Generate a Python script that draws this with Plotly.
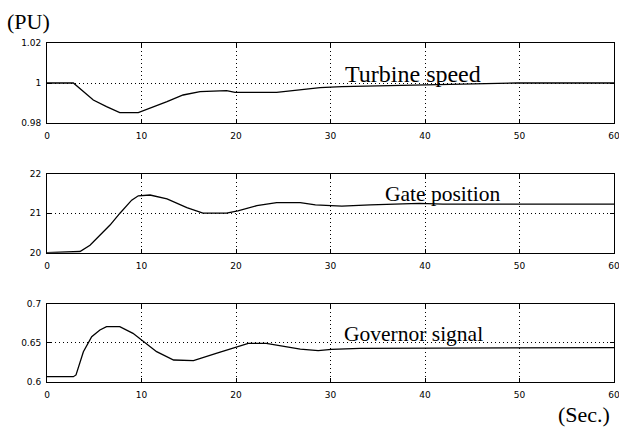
import plotly.graph_objects as go

# ---- data ----
speed_t = [0, 2.79, 3.85, 4.9, 6.3, 7.7, 9.66, 10.9, 12.7, 14.4, 16.2, 19.0, 19.9, 24.3, 26.8, 28.9, 31.2, 39.3, 49.8, 60]
speed_v = [1.0, 1.0, 0.9957, 0.9915, 0.9882, 0.9852, 0.9852, 0.9873, 0.9907, 0.994, 0.9957, 0.9962, 0.9953, 0.9953, 0.9968, 0.9977, 0.9982, 0.999, 1.0, 1.0]

gate_t = [0, 3.49, 4.55, 6.67, 7.72, 8.96, 9.66, 10.9, 12.7, 14.8, 16.5, 19.0, 20.2, 22.2, 24.3, 26.8, 28.4, 31.2, 34.2, 39.4, 41.9, 60]
gate_v = [20.0, 20.03, 20.19, 20.70, 21.0, 21.33, 21.44, 21.46, 21.36, 21.14, 21.0, 21.0, 21.06, 21.19, 21.27, 21.27, 21.21, 21.18, 21.21, 21.25, 21.23, 21.23]

gov_t = [0, 2.79, 3.07, 3.85, 4.73, 5.6, 6.3, 7.7, 9.1, 10.2, 11.6, 13.4, 15.5, 17.9, 20.0, 21.3, 23.2, 26.8, 28.7, 30.1, 33.1, 60]
gov_v = [0.6068, 0.6068, 0.609, 0.6387, 0.6579, 0.6664, 0.6706, 0.6706, 0.6622, 0.6515, 0.6387, 0.6281, 0.6272, 0.6366, 0.645, 0.6494, 0.6494, 0.6421, 0.64, 0.6417, 0.643, 0.6438]

x_ticks = [0, 10, 20, 30, 40, 50, 60]
speed_ticks = [0.98, 1.0, 1.02]
speed_tick_text = ["0.98", "1", "1.02"]
gate_ticks = [20, 21, 22]
gate_tick_text = ["20", "21", "22"]
gov_ticks = [0.6, 0.65, 0.7]
gov_tick_text = ["0.6", "0.65", "0.7"]

labels = ["Turbine speed", "Gate position", "Governor signal"]

# ---- figure ----
W, H = 619, 428
ML, MR, MT, MB = 47, 5, 43, 46
PH = H - MT - MB

def py(px):
    return (H - MB - px) / PH

def pxx(px):
    return (px - ML) / (W - ML - MR)

fig = go.Figure()
fig.add_trace(go.Scatter(x=speed_t, y=speed_v, mode="lines", line=dict(color="black", width=1.3), xaxis="x", yaxis="y"))
fig.add_trace(go.Scatter(x=gate_t, y=gate_v, mode="lines", line=dict(color="black", width=1.3), xaxis="x2", yaxis="y2"))
fig.add_trace(go.Scatter(x=gov_t, y=gov_v, mode="lines", line=dict(color="black", width=1.3), xaxis="x3", yaxis="y3"))

tickfont = dict(family="DejaVu Sans", size=9, color="black")
common = dict(showline=True, linecolor="black", linewidth=1, mirror="ticks",
              ticks="inside", ticklen=4, tickcolor="black", tickwidth=1,
              showgrid=True, gridcolor="black", gridwidth=1, griddash="1px,3px",
              zeroline=False, tickfont=tickfont, ticklabeloverflow="allow",
              automargin=False)

domains = [(py(123), py(43)), (py(252.7), py(173.7)), (py(382), py(303.7))]
yt = [(speed_ticks, speed_tick_text, [0.98, 1.02]),
      (gate_ticks, gate_tick_text, [20, 22]),
      (gov_ticks, gov_tick_text, [0.6, 0.7])]

layout = dict(width=W, height=H, margin=dict(l=ML, r=MR, t=MT, b=MB, autoexpand=False),
              paper_bgcolor="white", plot_bgcolor="white", showlegend=False)
for i in range(3):
    sx = "" if i == 0 else str(i + 1)
    layout["xaxis" + sx] = dict(common, range=[0, 60], tickvals=x_ticks,
                                 anchor="y" + sx, domain=[0, 1], ticklabelstandoff=4)
    layout["yaxis" + sx] = dict(common, range=yt[i][2], tickvals=yt[i][0], ticktext=yt[i][1],
                                 anchor="x" + sx, domain=list(domains[i]), ticklabelstandoff=3)
fig.update_layout(**layout)

def serif(size):
    return dict(family="Liberation Serif", size=size, color="black")

ann = [
    dict(text=labels[0], x=31.3, y=1.0044, xref="x", yref="y", xanchor="left", yanchor="middle", font=serif(24)),
    dict(text=labels[1], x=35.56, y=21.486, xref="x2", yref="y2", xanchor="left", yanchor="middle", font=serif(21.5)),
    dict(text=labels[2], x=31.2, y=0.6613, xref="x3", yref="y3", xanchor="left", yanchor="middle", font=serif(21.5)),
    dict(text="(PU)", x=pxx(5), y=py(22), xref="paper", yref="paper", xanchor="left", yanchor="middle", font=serif(22)),
    dict(text="(Sec.)", x=pxx(612), y=py(414), xref="paper", yref="paper", xanchor="right", yanchor="middle", font=serif(22)),
]
for a in ann:
    fig.add_annotation(**a, showarrow=False)

fig.write_html("out.html", config={"displayModeBar": False},
               post_script="document.body.style.margin='0';document.body.style.overflow='hidden';")
